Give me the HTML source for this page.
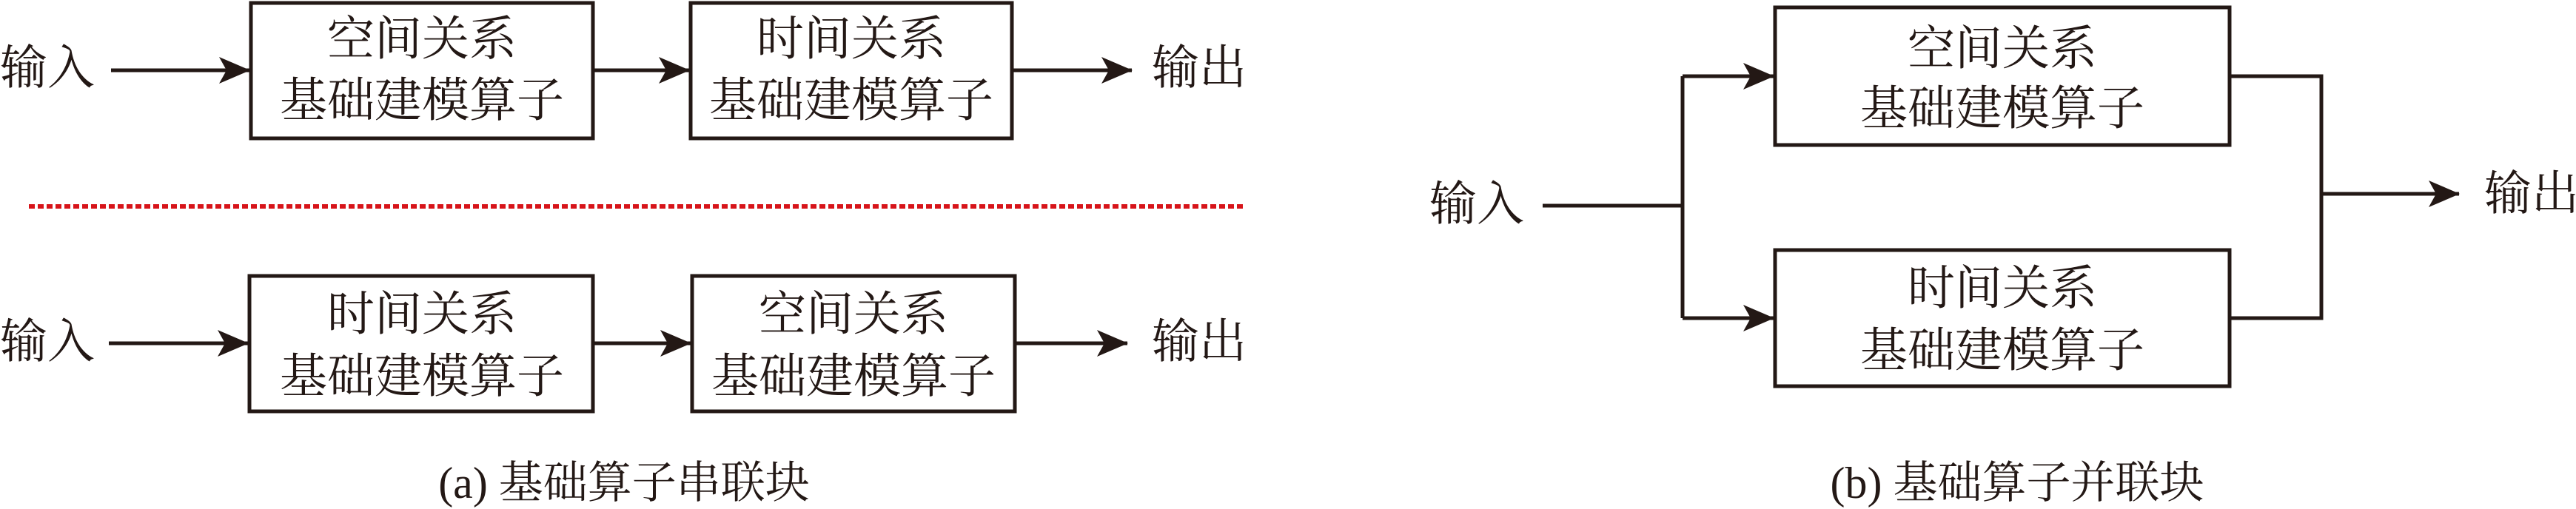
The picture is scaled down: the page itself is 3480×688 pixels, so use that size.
<!DOCTYPE html>
<html><head><meta charset="utf-8"><style>
html,body{margin:0;padding:0;background:#fff;}
svg{display:block}
text{font-family:"Liberation Serif","Noto Serif CJK SC",serif;fill:#231815;font-size:64px;text-anchor:middle;dominant-baseline:central}
.c{font-size:60px}
</style></head><body>
<svg width="3480" height="688" viewBox="0 0 3480 688" xmlns="http://www.w3.org/2000/svg">
<defs>
<marker id="a" markerWidth="42" markerHeight="36" refX="41" refY="18" markerUnits="userSpaceOnUse" orient="auto">
<path d="M0,0 L42,18 L0,36 L10,18 Z" fill="#231815"/>
</marker>
</defs>
<g stroke="#231815" stroke-width="5" fill="none">
<rect x="339" y="4" width="462" height="183"/>
<rect x="933" y="4" width="434" height="183"/>
<line x1="150" y1="95" x2="337" y2="95" marker-end="url(#a)"/>
<line x1="801" y1="95" x2="931" y2="95" marker-end="url(#a)"/>
<line x1="1367" y1="95" x2="1529" y2="95" marker-end="url(#a)"/>
<rect x="337" y="373" width="464" height="183"/>
<rect x="935" y="373" width="436" height="183"/>
<line x1="147" y1="464" x2="335" y2="464" marker-end="url(#a)"/>
<line x1="801" y1="464" x2="933" y2="464" marker-end="url(#a)"/>
<line x1="1371" y1="464" x2="1523" y2="464" marker-end="url(#a)"/>
<rect x="2398" y="10" width="614" height="186"/>
<rect x="2398" y="338" width="614" height="184"/>
<polyline points="2084,278 2273,278"/>
<line x1="2273" y1="103" x2="2273" y2="430"/>
<line x1="2273" y1="103" x2="2396" y2="103" marker-end="url(#a)"/>
<line x1="2273" y1="430" x2="2396" y2="430" marker-end="url(#a)"/>
<polyline points="3012,103 3136,103 3136,430 3012,430"/>
<line x1="3136" y1="262" x2="3322" y2="262" marker-end="url(#a)"/>
</g>
<line x1="39" y1="279" x2="1681" y2="279" stroke="#d7141a" stroke-width="6" stroke-dasharray="8,4"/>
<text x="64" y="92">输入</text>
<text x="570" y="53">空间关系</text>
<text x="570" y="136">基础建模算子</text>
<text x="1150" y="53">时间关系</text>
<text x="1150" y="136">基础建模算子</text>
<text x="1620" y="92">输出</text>
<text x="64" y="462">输入</text>
<text x="570" y="425">时间关系</text>
<text x="570" y="509">基础建模算子</text>
<text x="1153" y="425">空间关系</text>
<text x="1153" y="509">基础建模算子</text>
<text x="1620" y="462">输出</text>
<text class="c" x="843" y="653">(a) 基础算子串联块</text>
<text x="1995" y="276">输入</text>
<text x="2705" y="66">空间关系</text>
<text x="2705" y="147">基础建模算子</text>
<text x="2705" y="390">时间关系</text>
<text x="2705" y="474">基础建模算子</text>
<text x="3420" y="262">输出</text>
<text class="c" x="2725" y="653">(b) 基础算子并联块</text>
</svg>
</body></html>
